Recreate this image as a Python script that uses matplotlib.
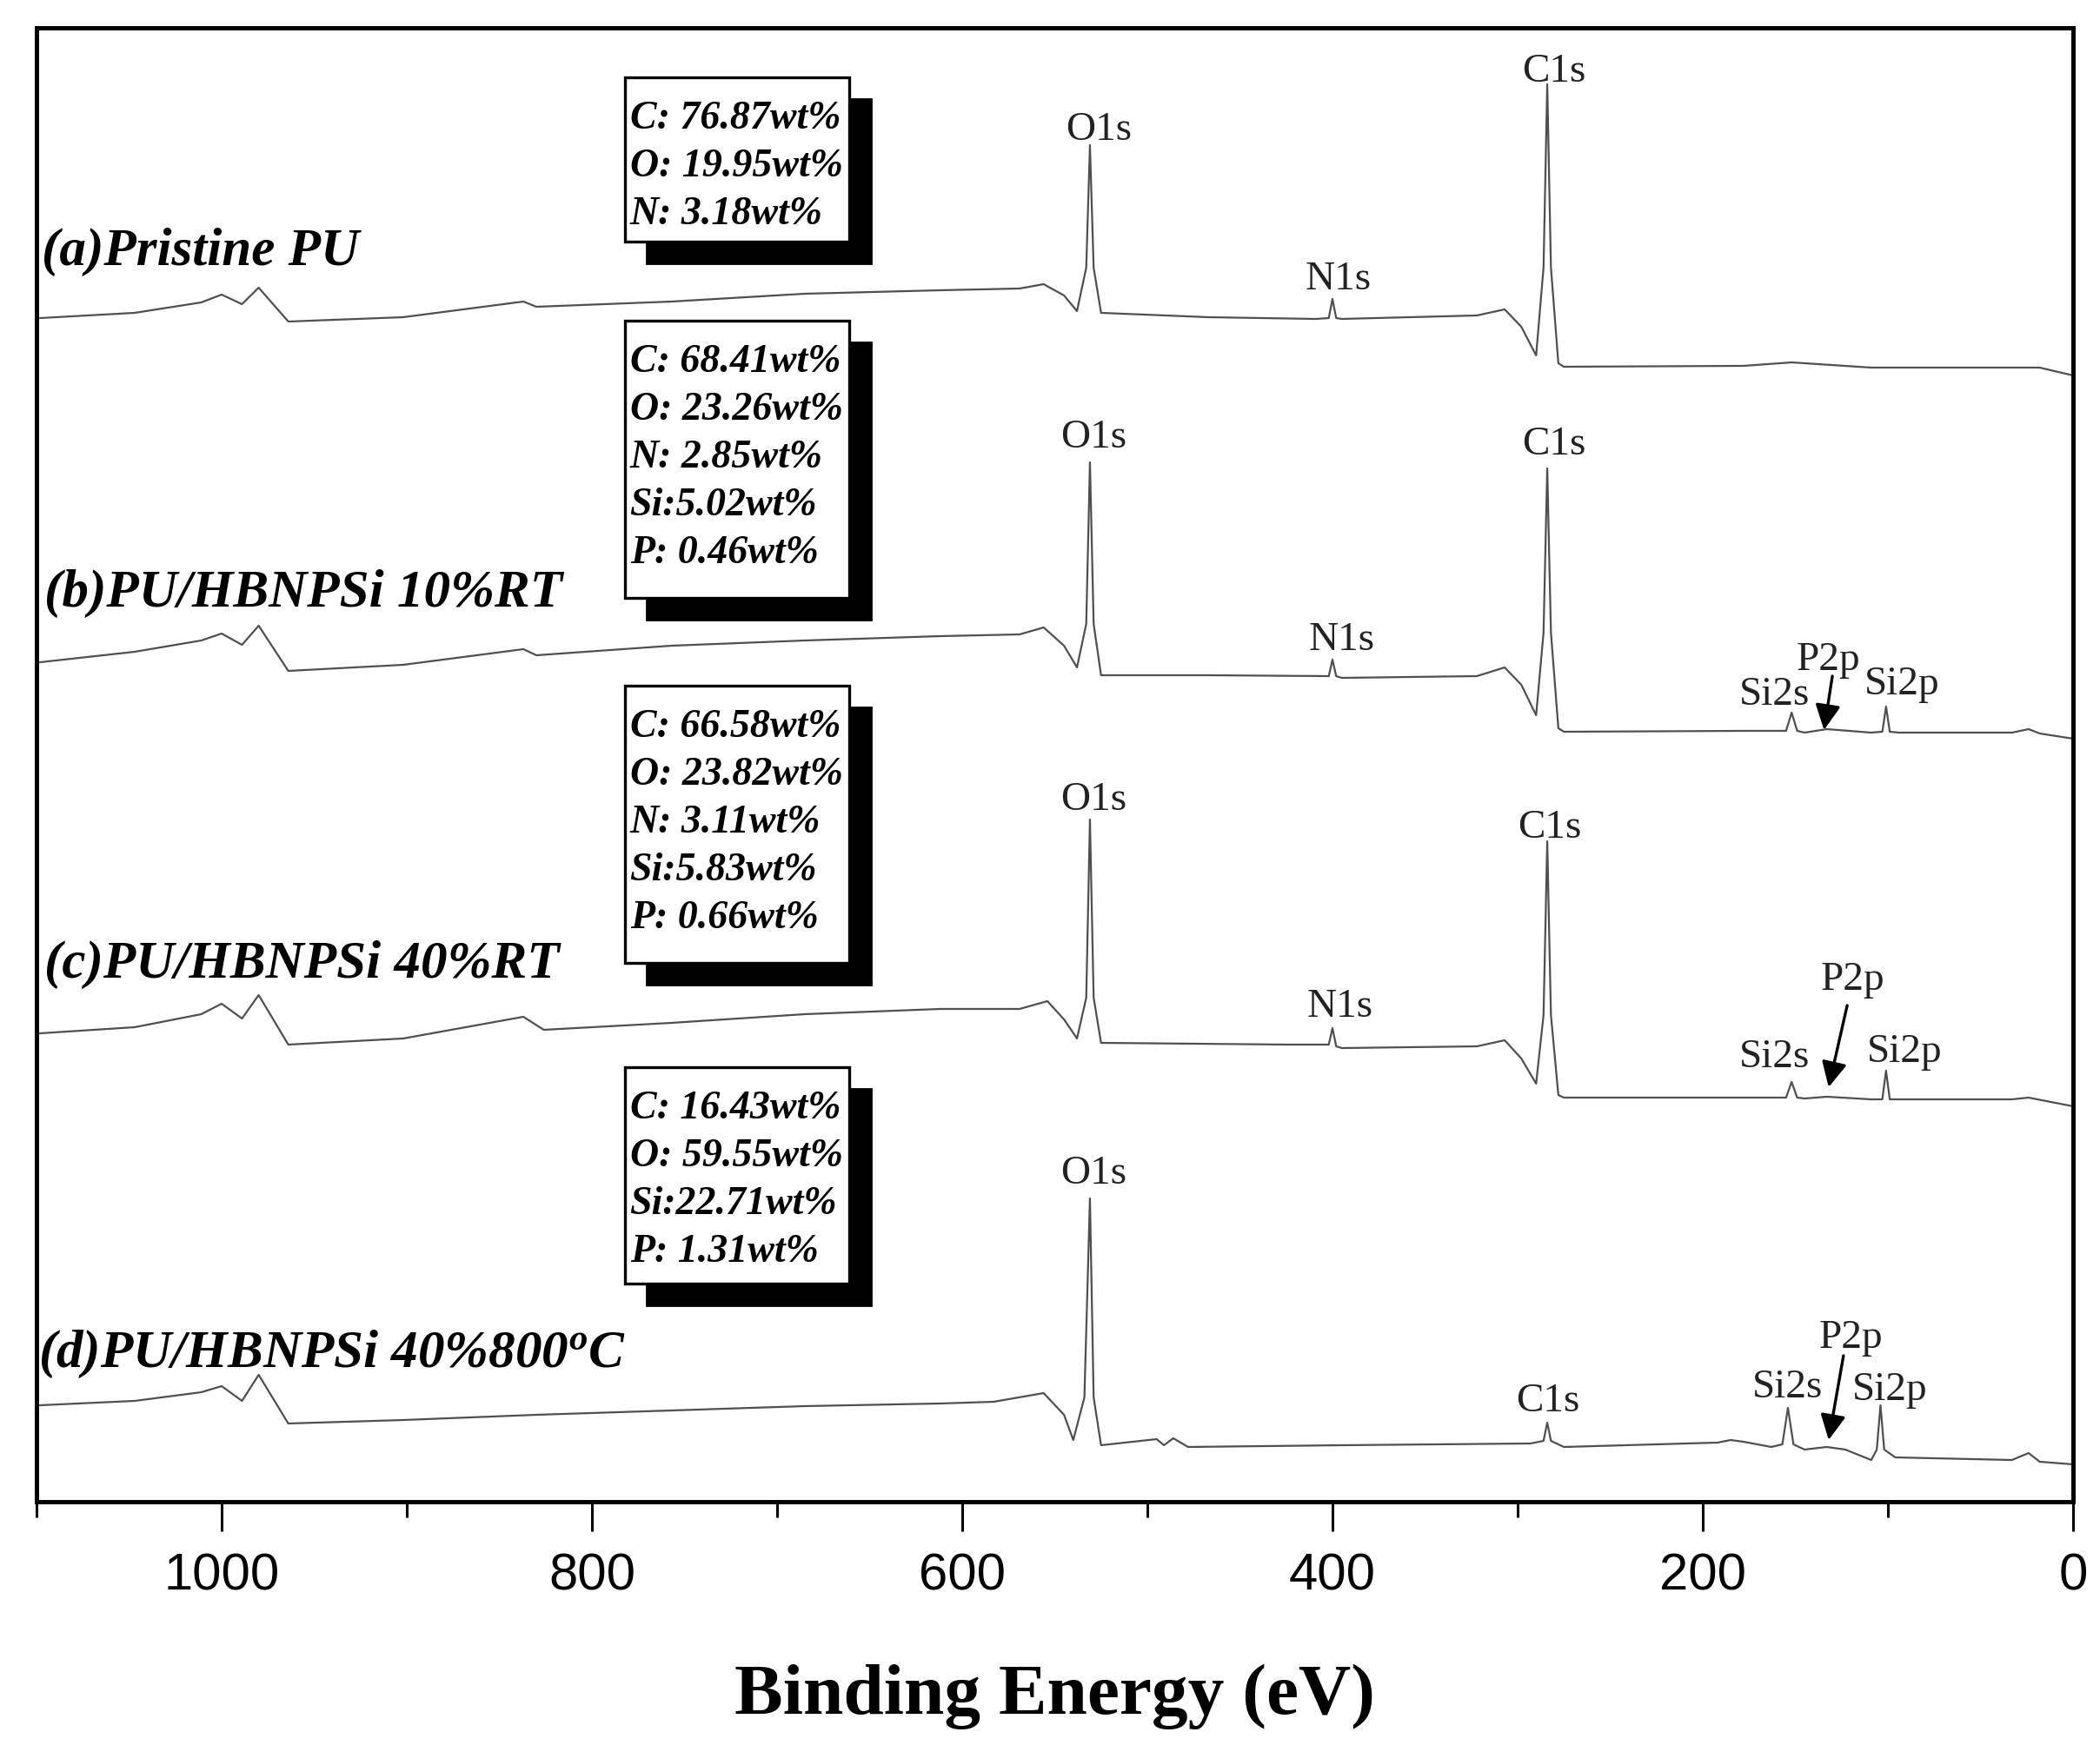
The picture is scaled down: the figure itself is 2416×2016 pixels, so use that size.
import matplotlib
matplotlib.use("Agg")
import matplotlib.pyplot as plt
from matplotlib.patches import Rectangle
from matplotlib.ticker import MultipleLocator

# ── spectra (binding energy eV, intensity in offset units) ──
energy_a = [1098, 1047, 1011, 1000, 989, 980, 964, 902, 837, 830, 757, 685, 612, 569, 556, 545,
            538, 533, 531, 529, 525, 467, 409, 402, 400, 398, 395, 322, 307, 298, 290, 286,
            284, 282, 278, 275, 178, 152, 109, 18, 0]
inten_a = [1362, 1368, 1380, 1389, 1378, 1397, 1358, 1363, 1381, 1375, 1381, 1390, 1394, 1396, 1401, 1388,
           1370, 1420, 1561, 1420, 1368, 1363, 1361, 1362, 1384, 1362, 1361, 1365, 1372, 1352, 1319, 1420,
           1631, 1420, 1310, 1306, 1307, 1311, 1305, 1305, 1296]

energy_b = [1098, 1047, 1011, 1000, 989, 980, 964, 902, 837, 830, 757, 685, 612, 569, 556, 545,
            538, 533, 531, 529, 525, 467, 402, 400, 398, 395, 322, 307, 298, 290, 286, 284,
            282, 278, 275, 178, 155, 152, 149, 145, 133, 109, 103, 101, 99, 94, 33, 24, 18, 0]
inten_b = [966, 978, 991, 999, 986, 1008, 956, 963, 981, 974, 985, 991, 996, 998, 1006, 985,
           960, 1010, 1196, 1010, 951, 951, 950, 969, 950, 948, 950, 960, 940, 905, 1000, 1189,
           1000, 890, 886, 887, 887, 908, 887, 885, 889, 885, 886, 915, 886, 885, 885, 889, 884, 878]

energy_c = [1098, 1047, 1011, 1000, 989, 980, 964, 902, 837, 826, 757, 685, 612, 569, 554, 545,
            538, 533, 531, 529, 525, 424, 402, 400, 398, 395, 322, 307, 298, 290, 286, 284,
            282, 278, 275, 178, 155, 152, 149, 145, 133, 109, 103, 101, 99, 94, 33, 24, 0]
inten_c = [539, 546, 561, 573, 556, 583, 526, 533, 558, 543, 551, 561, 567, 567, 576, 555,
           533, 580, 785, 580, 528, 526, 526, 545, 524, 522, 524, 531, 510, 481, 560, 760,
           560, 468, 465, 465, 465, 483, 465, 464, 466, 463, 463, 496, 463, 463, 463, 465, 455]

energy_d = [1098, 1047, 1011, 1000, 989, 980, 964, 902, 830, 757, 685, 612, 583, 556, 545, 540,
            534, 531, 529, 525, 495, 491, 486, 478, 395, 293, 286, 284, 282, 275, 192, 185,
            178, 163, 157, 154, 151, 145, 133, 123, 109, 106, 104, 102, 96, 33, 24, 18, 0]
inten_d = [111, 116, 126, 133, 116, 146, 90, 94, 100, 105, 110, 113, 115, 125, 100, 71,
           120, 349, 120, 65, 72, 65, 73, 63, 65, 67, 70, 91, 70, 63, 68, 71,
           69, 63, 66, 108, 66, 60, 63, 60, 48, 60, 111, 60, 51, 48, 56, 46, 43]

sample_names = ["(a)Pristine PU", "(b)PU/HBNPSi 10%RT", "(c)PU/HBNPSi 40%RT",
                "(d)PU/HBNPSi 40%800$^o$C"]

composition = [
    ["C: 76.87wt%", "O: 19.95wt%", "N: 3.18wt%"],
    ["C: 68.41wt%", "O: 23.26wt%", "N: 2.85wt%", "Si:5.02wt%", "P: 0.46wt%"],
    ["C: 66.58wt%", "O: 23.82wt%", "N: 3.11wt%", "Si:5.83wt%", "P: 0.66wt%"],
    ["C: 16.43wt%", "O: 59.55wt%", "Si:22.71wt%", "P: 1.31wt%"],
]

peak_text = ["O1s", "C1s", "N1s",
             "O1s", "C1s", "N1s", "Si2s", "P2p", "Si2p",
             "O1s", "C1s", "N1s", "Si2s", "P2p", "Si2p",
             "O1s", "C1s", "Si2s", "P2p", "Si2p"]
peak_energy = [526, 280.5, 397,
               529, 280.5, 395, 161, 132, 92.6,
               529, 282.5, 396, 161, 119, 91,
               529, 283.5, 154, 120, 99]
peak_inten = [1578, 1645, 1406,
              1224, 1216, 991, 928, 968, 940,
              807, 775, 569, 511, 600, 517,
              377, 115, 131, 188, 128]

# P2p arrows: tail (E, I) -> tip (E, I)
arrow_tail_e = [130, 122, 124]
arrow_tail_i = [950, 571, 168]
arrow_tip_e = [134.5, 132, 132]
arrow_tip_i = [888, 477, 71]

plt.rcParams['font.family'] = ['Liberation Serif', 'DejaVu Serif']
plt.rcParams['mathtext.fontset'] = 'custom'
plt.rcParams['mathtext.it'] = 'Liberation Serif:bold:italic'
plt.rcParams['mathtext.rm'] = 'Liberation Serif:bold:italic'

fig = plt.figure(figsize=(12.08, 10.08), dpi=200)
ax = fig.add_axes([0.01738, 0.14286, 0.96978, 0.84127])

line_kw = dict(color='#505050', lw=0.8)
for E, I in [(energy_a, inten_a), (energy_b, inten_b), (energy_c, inten_c), (energy_d, inten_d)]:
    ax.plot(E, I, **line_kw)

ax.set_xlim(1100, 0)
ax.set_ylim(0, 1696)

# sample labels
label_x = [1097, 1096, 1096, 1099]
label_y = [1438, 1045, 618, 170]
for name, lx, ly in zip(sample_names, label_x, label_y):
    ax.text(lx, ly, name, ha='left', va='center', fontsize=22,
            fontweight='bold', fontstyle='italic', clip_on=False)

# composition boxes with drop shadow
box_top = [1639, 1359, 939, 500]
box_bot = [1450, 1040, 620, 251]
box_left, box_w = 661, 121
dE, dI = 11.75, 25
for lines, top, bot in zip(composition, box_top, box_bot):
    ax.add_patch(Rectangle((box_left - dE, bot - dI), box_w, top - bot,
                           facecolor='black', edgecolor='black', zorder=3))
    ax.add_patch(Rectangle((box_left, bot), box_w, top - bot,
                           facecolor='white', edgecolor='black', lw=1.2, zorder=4))
    for k, s in enumerate(lines):
        ax.text(779.5, top - 48 - 55 * k, s, ha='left', va='center', fontsize=16.5,
                fontweight='bold', fontstyle='italic', zorder=5)

# peak labels
for s, e, i in zip(peak_text, peak_energy, peak_inten):
    ax.text(e, i, s, ha='center', va='center', fontsize=17, color='#222222')

for te, ti, he, hi in zip(arrow_tail_e, arrow_tail_i, arrow_tip_e, arrow_tip_i):
    ax.annotate('', xy=(he, hi), xytext=(te, ti),
                arrowprops=dict(arrowstyle='-|>', color='black', lw=1.2,
                                mutation_scale=22, shrinkA=0, shrinkB=0))

# axes styling
for sp in ax.spines.values():
    sp.set_linewidth(1.8)
ax.set_yticks([])
ax.xaxis.set_major_locator(MultipleLocator(200))
ax.xaxis.set_minor_locator(MultipleLocator(100))
ax.tick_params(axis='x', which='major', direction='out', length=12.2, width=1.1,
               pad=9, labelsize=21.5)
ax.tick_params(axis='x', which='minor', direction='out', length=6.5, width=1.1)
for lbl in ax.get_xticklabels():
    lbl.set_fontfamily('Liberation Sans')
ax.set_xlabel('Binding Energy (eV)', fontsize=30, fontweight='bold', labelpad=26)

fig.savefig('out.png', dpi=200)
